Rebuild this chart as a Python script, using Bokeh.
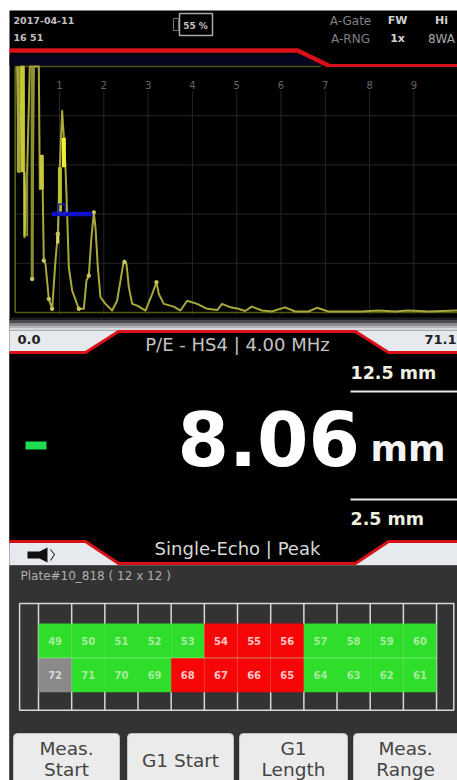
from bokeh.plotting import figure
from bokeh.models import Range1d
from bokeh.core.properties import value
from bokeh.embed import file_html
from bokeh.resources import INLINE

# ---------- data ----------
trace_depth = [0.044,0.082,0.134,0.195,0.21,0.27,0.33,0.383,0.383,0.42,0.533,0.556,0.608,0.646,0.684,0.759,0.834,0.909,0.962,1.007,1.06,1.098,1.135,1.173,1.21,1.286,1.436,1.549,1.609,1.662,1.715,1.775,1.812,1.865,1.925,2.038,2.188,2.301,2.452,2.512,2.565,2.64,2.753,2.941,3.091,3.189,3.242,3.355,3.58,3.731,3.881,4.107,4.333,4.559,4.671,4.86,5.04,5.19,5.34,5.57,5.79,6.09,6.32,6.62,6.81,7.07,7.37,7.82,8.2,8.58,8.88,9.33,9.98]
trace_amp = [100,57,100,100,30.6,57,100,100,13.6,100,100,50.2,63.8,21.1,19.7,5.5,1.5,21.1,32,59,82,71.2,59,40,18.4,8.9,1.5,1.5,13,15,29.2,40.7,34.6,18.4,6.2,3.5,0.8,4.8,21.1,19.7,10.3,3.5,2.8,0.8,7.5,12.3,7.5,3.5,2.4,0.8,4.8,3.5,1.5,1,3.5,2.1,1.5,0.6,2.4,0.8,0.4,2.1,0.4,0.4,1.9,0.4,0.4,0.4,0.8,0.4,0.8,0.4,0.8]
hot_depth = [0.07,0.16,0.21,0.27,0.383,0.60,0.96,1.01,1.098]
hot_top = [100,100,57,57,100,64,32,59,71]
hot_bot = [57,57,31,31,14,50,28,41,59]
hot_width = [3,4,2,2,3,4,3,4,4]
hot_color = ["#a8a840","#c8c830","#c8c850","#8a8a30","#8c8c30","#c8c840","#d8d860","#c0c030","#f0f030"]
node_depth = [0.383,0.646,0.759,0.834,0.962,1.662,1.775,2.47,3.189,1.436]
node_amp = [13.6,21.1,5.5,1.5,32,15,40.7,20.5,12.3,1.5]
gate_depth = [0.83,1.74]
gate_amp = [40,40]
depth_ticks = [1,2,3,4,5,6,7,8,9]
amp_ticks = [20,40,60,80]

plate_row1 = ["49","50","51","52","53","54","55","56","57","58","59","60"]
plate_row2 = ["72","71","70","69","68","67","66","65","64","63","62","61"]
status_row1 = ["ok","ok","ok","ok","ok","bad","bad","bad","ok","ok","ok","ok"]
status_row2 = ["none","ok","ok","ok","bad","bad","bad","bad","ok","ok","ok","ok"]
status_color = {"ok":"#2ede2a","bad":"#f60606","none":"#8a8a8a"}

thickness = "8.06"
unit = "mm"
upper_limit = "12.5 mm"
lower_limit = "2.5 mm"
range_start = "0.0"
range_end = "71.1"
probe_label = "P/E - HS4 | 4.00 MHz"
mode_label = "Single-Echo | Peak"
plate_label = "Plate#10_818 ( 12 x 12 )"
button_labels = [["Meas.","Start"],["G1 Start"],["G1","Length"],["Meas.","Range"]]

# ---------- page ----------
p = figure(width=457, height=780, x_range=Range1d(0,457), y_range=Range1d(780,0),
           output_backend="svg", toolbar_location=None, min_border=0,
           background_fill_color="white", border_fill_color="white")
p.axis.visible = False
p.grid.visible = False
p.outline_line_color = None

px = 44.3; ox = 14.7
p.extra_x_ranges["depth"] = Range1d((0-ox)/px, (457-ox)/px)
p.extra_y_ranges["amp"] = Range1d((312-780)/2.46, (312-0)/2.46)
cw = 33.17; ch = 34.4
p.extra_x_ranges["col"] = Range1d((0-38)/cw, (457-38)/cw)
p.extra_y_ranges["row"] = Range1d((780-623)/ch, (0-623)/ch)
S = dict(x_range_name="depth", y_range_name="amp")
G = dict(x_range_name="col", y_range_name="row")

def txt(x,y,t,size,color,bold=False,align="left",font="DejaVu Sans",alpha=1.0):
    p.text(x=[x],y=[y],text=[t],text_font=value(font),text_font_size=f"{size}px",
           text_color=color,text_alpha=alpha,text_align=align,text_baseline="middle",
           text_font_style="bold" if bold else "normal")

# background blocks
p.quad(left=[9],right=[457],top=[10],bottom=[780],fill_color="black",line_color=None)
p.patch([9,297,326,9],[54,54,65,65],fill_color="#05051e",line_color=None)

# top bar
txt(13,20,"2017-04-11",9.5,"#c0c0c0",True)
txt(13,37,"16 51",9.5,"#c0c0c0",True)
p.quad(left=[179],right=[212],top=[13],bottom=[35],fill_color=None,line_color="#a8a8a8",line_width=1.5)
p.quad(left=[173],right=[178],top=[18],bottom=[30],fill_color=None,line_color="#777777",line_width=1)
txt(195,25,"55 %",9,"#c0c0c0",True,"center")
txt(350,20,"A-Gate",12,"#808080",False,"center")
txt(350,38,"A-RNG",12,"#808080",False,"center")
txt(397,20,"FW",11,"#d0d0d0",True,"center")
txt(397,38,"1x",11,"#d0d0d0",True,"center")
txt(441,20,"Hi",11,"#d0d0d0",True,"center")
txt(441,38,"8WA",12,"#a8a8a8",False,"center")
p.line([9,297,328],[50,50,65],line_color="#d8101a",line_width=4.5,line_join="miter")
p.line([326,457],[65,65],line_color="#d8101a",line_width=3)

# A-scan grid and frame
for d in depth_ticks:
    p.line([d,d],[-1,90],line_color="#262626",line_width=1,**S)
    p.text(x=[d],y=[92.5],text=[str(d)],text_color="#666666",text_font=value("DejaVu Sans"),
           text_font_size="10px",text_align="center",text_baseline="middle",**S)
for a in amp_ticks:
    p.line([0,10.3],[a,a],line_color="#262626",line_width=1,**S)
p.line([0,0],[0,100],line_color="#6a6a18",line_width=1.5,**S)
p.line([0,6.9],[100,100],line_color="#55501a",line_width=1.5,**S)
p.line([0,10.3],[0,0],line_color="#55551a",line_width=1.5,**S)

# trace
p.line(trace_depth,trace_amp,line_color="#a8a83c",line_width=2,line_join="round",**S)
for d,t,b,w,c in zip(hot_depth,hot_top,hot_bot,hot_width,hot_color):
    p.line([d,d],[t,b],line_color=c,line_width=w,**S)
p.scatter(node_depth,node_amp,size=3.5,color="#c8c860",**S)
p.line(gate_depth,gate_amp,line_color="#1010c8",line_width=4.5,**S)
p.quad(left=[0.98],right=[1.13],top=[44],bottom=[40],fill_color=None,line_color="#2020b0",line_width=1.5,**S)

# range band
for i,c in enumerate(["#1c1c24","#4a4a50","#85858a","#b4b6ba","#d6d8dc"]):
    p.quad(left=[9],right=[457],top=[317+i*2.6],bottom=[319.6+i*2.6],fill_color=c,line_color=None)
p.quad(left=[9],right=[457],top=[330],bottom=[353],fill_color="#e6e9ee",line_color=None)
p.patch([9,85,118,355,388,457,457,9],[352,352,331,331,352,352,545,545],fill_color="black",line_color=None)
p.line([9,85,118,355,388,457],[352,352,331,331,352,352],line_color="#dc1018",line_width=3,line_join="miter")
txt(17,339,range_start,13,"#202020",True)
txt(424,339,range_end,13,"#202020",True)
txt(237,344,probe_label,18,"#c4c4c4",False,"center")

# readout
txt(350,372,upper_limit,17.5,"#f0f0e0",True)
p.line([350,457],[391,391],line_color="#e8e8e8",line_width=2)
p.quad(left=[25],right=[46],top=[441],bottom=[449],fill_color="#20dc50",line_color=None)
p.text(x=[177],y=[438],text=[thickness],text_font=value("DejaVu Sans"),text_font_size="74px",
       text_font_style="bold",text_color="white",text_baseline="middle")
p.text(x=[370],y=[448],text=[unit],text_font=value("DejaVu Sans"),text_font_size="36px",
       text_font_style="bold",text_color="#f4f4f4",text_baseline="middle")
p.line([350,457],[499,499],line_color="#e8e8e8",line_width=2)
txt(350,518,lower_limit,17.5,"#f0f0e0",True)

# lower band
p.patch([9,85,118,355,388,457,457,9],[541,541,563,563,541,541,565,565],fill_color="#e6e9ee",line_color=None)
p.quad(left=[9],right=[457],top=[565],bottom=[780],fill_color="#333333",line_color=None)
p.line([9,85,118,355,388,457],[541,541,563,563,541,541],line_color="#d81018",line_width=3,line_join="miter")
p.patch([27,39,47,47,39,27],[551,551,547,562,558,558],fill_color="#101010",line_color=None)
p.line([50,54,50],[549,554,560],line_color="#303030",line_width=1.2)
txt(237,548,mode_label,18,"#d8d8d8",False,"center")
txt(20,575,plate_label,12,"#b0b0b0",False)

# plate grid
n = len(plate_row1)
for c in range(n+1):
    p.line([c,c],[-0.58,2.52],line_color="#d8d8d8",line_width=1.5,**G)
p.quad(left=[-0.57],right=[12.52],top=[-0.58],bottom=[2.52],fill_color=None,line_color="#d8d8d8",line_width=1.5,**G)
cols = list(range(n))
p.quad(left=cols,right=[c+1 for c in cols],top=[0]*n,bottom=[1]*n,
       fill_color=[status_color[s] for s in status_row1],line_color=None,**G)
p.quad(left=cols,right=[c+1 for c in cols],top=[1]*n,bottom=[2]*n,
       fill_color=[status_color[s] for s in status_row2],line_color=None,**G)
p.line([0,12],[1,1],line_color="#a8f0a0",line_width=0.8,line_alpha=0.7,**G)
for row,labels,stat in ((0.5,plate_row1,status_row1),(1.5,plate_row2,status_row2)):
    p.text(x=[c+0.5 for c in cols],y=[row]*n,text=labels,text_color=["#ffc8c8" if s=="bad" else "#a8eca0" if s=="ok" else "#d8d8d8" for s in stat],
           text_font=value("DejaVu Sans"),text_font_size="10px",text_font_style="bold",
           text_align="center",text_baseline="middle",**G)

# buttons
btn_l = [13,127,239,353]; btn_r = [119,233,347,470]
p.quad(left=btn_l,right=btn_r,top=[733]*4,bottom=[790]*4,fill_color="#ebebeb",line_color="#c4c4c4",line_width=1,border_radius=4)
btn_cx = [66,180,293,405]
for cx,labels in zip(btn_cx,button_labels):
    if len(labels)==1:
        txt(cx,760,labels[0],18.5,"#444444",False,"center")
    else:
        txt(cx,748,labels[0],18.5,"#444444",False,"center")
        txt(cx,769,labels[1],18.5,"#444444",False,"center")

open("out.html","w").write(file_html(p,INLINE))
